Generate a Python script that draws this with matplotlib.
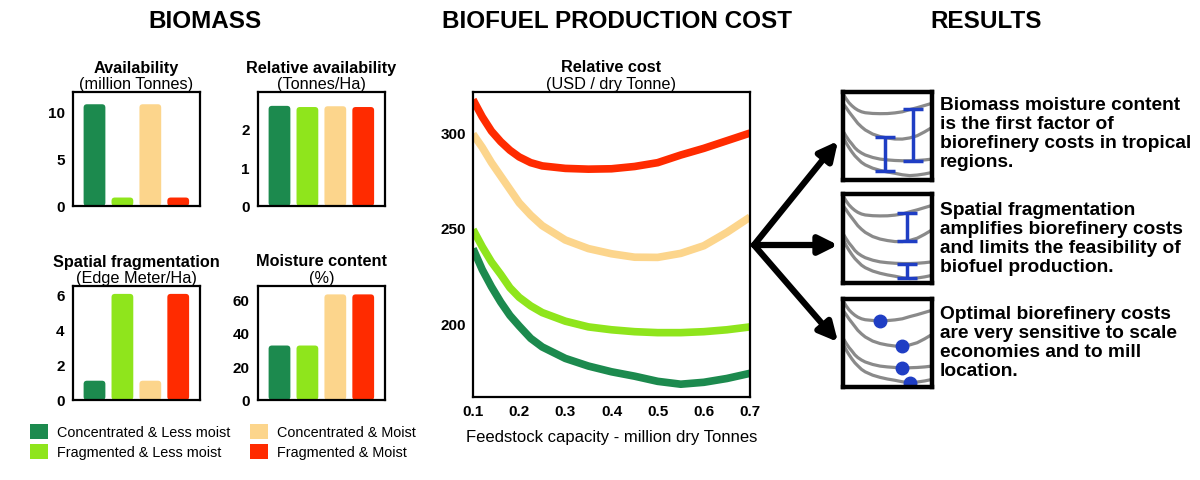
import matplotlib
matplotlib.use('Agg')
import matplotlib.pyplot as plt
import numpy as np
from matplotlib.patches import Patch, FancyArrowPatch, FancyBboxPatch

plt.rcParams['font.family'] = ['Liberation Sans', 'DejaVu Sans']

# scenarios
groups = ['Concentrated & Less moist', 'Fragmented & Less moist',
          'Concentrated & Moist', 'Fragmented & Moist']
colors = ['#1c8a4e', '#8fe51c', '#fcd58c', '#ff2b00']

# biomass bars
availability = [10.8, 0.9, 10.8, 0.9]
rel_availability = [2.6, 2.57, 2.59, 2.57]
fragmentation = [1.1, 6.05, 1.1, 6.05]
moisture = [32.5, 32.5, 63, 63]

# cost curves (USD / dry tonne)
capacity = [0.1, 0.12, 0.14, 0.16, 0.18, 0.2, 0.225, 0.25, 0.3, 0.35, 0.4, 0.45, 0.5, 0.55, 0.6, 0.65, 0.7]
cost_conc_less = [239, 228, 219, 211, 204, 198.5, 192, 187.5, 181.5, 177.5, 174.5, 172.2, 169.5, 168, 169, 171, 173.7]
cost_frag_less = [249, 240, 232, 225.5, 218.5, 213.5, 209, 205.5, 201, 198, 196.5, 195.5, 195, 195, 195.5, 196.5, 198]
cost_conc_moist = [299, 292, 284, 277, 270, 263, 256.5, 251, 243.5, 239, 236.3, 234.5, 234.4, 236.5, 240.5, 247.5, 255.5]
cost_frag_moist = [317, 308, 300.5, 295, 290.5, 287, 284, 282.3, 281, 280.6, 280.8, 282, 284, 288, 291.5, 295.5, 299.5]
curves = [cost_conc_less, cost_frag_less, cost_conc_moist, cost_frag_moist]

results = [
    "Biomass moisture content\nis the first factor of\nbiorefinery costs in tropical\nregions.",
    "Spatial fragmentation\namplifies biorefinery costs\nand limits the feasibility of\nbiofuel production.",
    "Optimal biorefinery costs\nare very sensitive to scale\neconomies and to mill\nlocation.",
]

W, H = 1200, 481
fig = plt.figure(figsize=(12, 4.81), dpi=100)


def fx(px):
    return px / W


def fy(py):
    return 1 - py / H


def box_axes(l, t, r, b):
    return fig.add_axes([fx(l), fy(b), fx(r - l), (b - t) / H])


def style(ax, lw=1.6, pad=6):
    for s in ax.spines.values():
        s.set_linewidth(lw)
        s.set_color('black')
    ax.tick_params(length=0, labelsize=11, pad=pad)
    for lab in ax.get_yticklabels() + ax.get_xticklabels():
        lab.set_fontweight('bold')


# section headers
fig.text(fx(205), fy(22), 'BIOMASS', ha='center', va='center', fontsize=17.5, fontweight='bold')
fig.text(fx(617), fy(22), 'BIOFUEL PRODUCTION COST', ha='center', va='center', fontsize=17.5, fontweight='bold')
fig.text(fx(986), fy(22), 'RESULTS', ha='center', va='center', fontsize=17.5, fontweight='bold')

# bar panels
panels = [
    (availability, 'Availability', '(million Tonnes)', (73, 93, 200, 207), 12.1, [0, 5, 10]),
    (rel_availability, 'Relative availability', '(Tonnes/Ha)', (258, 93, 385, 207), 2.96, [0, 1, 2]),
    (fragmentation, 'Spatial fragmentation', '(Edge Meter/Ha)', (73, 287, 200, 401), 6.5, [0, 2, 4, 6]),
    (moisture, 'Moisture content', '(%)', (258, 287, 385, 401), 68, [0, 20, 40, 60]),
]
x0, x1 = -0.77, 3.78
for vals, title, sub, (l, t, r, b), ymax, yt in panels:
    ax = box_axes(l, t, r, b)
    bars = ax.bar(range(4), vals, width=0.78, color=colors)
    # swap the plain rectangles for rounded ones
    aspect = (ymax / (b - t)) / ((x1 - x0) / (r - l))
    for rect in bars:
        rect.set_visible(False)
        ax.add_patch(FancyBboxPatch((rect.get_x(), rect.get_y()), rect.get_width(), rect.get_height(),
                                    boxstyle='round,pad=0,rounding_size=0.12', mutation_aspect=aspect,
                                    facecolor=rect.get_facecolor(), edgecolor='none'))
    ax.set_xlim(x0, x1)
    ax.set_ylim(0, ymax)
    ax.set_xticks([])
    ax.set_yticks(yt)
    style(ax)
    cx = fx((l + r) / 2)
    fig.text(cx, fy(t - 25), title, ha='center', va='center', fontsize=11.7, fontweight='bold')
    fig.text(cx, fy(t - 8), sub, ha='center', va='center', fontsize=11.7)

# legend
handles = [Patch(facecolor=c, edgecolor='none') for c in colors]
fig.legend(handles, groups, loc='upper left', bbox_to_anchor=(fx(30), fy(425)),
           ncol=2, frameon=False, fontsize=10.4, borderpad=0, borderaxespad=0,
           handlelength=1.25, handleheight=1.25, handletextpad=0.6,
           labelspacing=0.3, columnspacing=1.4)

# main cost chart
ax = box_axes(473, 93, 750, 398)
for c, y in zip(colors, curves):
    ax.plot(capacity, y, color=c, lw=5.5, solid_capstyle='butt', solid_joinstyle='round')
ax.set_xlim(0.1, 0.7)
ax.set_ylim(161.3, 321)
ax.set_yticks([200, 250, 300])
ax.set_xticks([0.1, 0.2, 0.3, 0.4, 0.5, 0.6, 0.7])
style(ax, pad=5)
ax.set_xlabel('Feedstock capacity - million dry Tonnes', fontsize=12, labelpad=8)
fig.text(fx(611), fy(68), 'Relative cost', ha='center', va='center', fontsize=11.7, fontweight='bold')
fig.text(fx(611), fy(84), '(USD / dry Tonne)', ha='center', va='center', fontsize=11.7)

# arrows
origin = (fx(754), fy(246))
for ty in [142, 246, 343]:
    fig.add_artist(FancyArrowPatch(origin, (fx(838), fy(ty)), transform=fig.transFigure,
                                   arrowstyle='-|>', mutation_scale=28, lw=4.5,
                                   color='black', shrinkA=0, shrinkB=0))

# result icons
blue = '#1f3ec4'
boxes = [(843, 93, 932, 181), (843, 195, 932, 284), (843, 300, 932, 388)]
text_y = [134, 239, 343]
for i, (l, t, r, b) in enumerate(boxes):
    ax = box_axes(l, t, r, b)
    for y in curves:
        ax.plot(capacity, y, color='#8a8a8a', lw=2.3)
    ax.set_xlim(0.1, 0.7)
    ax.set_ylim(160, 320)
    ax.set_xticks([])
    ax.set_yticks([])
    for s in ax.spines.values():
        s.set_linewidth(3.2)
    if i == 0:
        pairs = [(0.38, cost_conc_less, cost_conc_moist), (0.57, cost_frag_less, cost_frag_moist)]
    elif i == 1:
        pairs = [(0.53, cost_conc_moist, cost_frag_moist), (0.53, cost_conc_less, cost_frag_less)]
    else:
        pairs = []
    for x, lo, hi in pairs:
        ylo = np.interp(x, capacity, lo)
        yhi = np.interp(x, capacity, hi)
        ax.errorbar([x], [ylo], yerr=[[0], [yhi - ylo]], fmt='none', ecolor=blue,
                    elinewidth=2.5, capsize=7, capthick=2.5)
    if i == 2:
        for y in curves:
            k = int(np.argmin(y))
            ax.plot(capacity[k], y[k], 'o', color=blue, ms=9)
    fig.text(fx(940), fy(text_y[i]), results[i], ha='left', va='center',
             fontsize=13.8, fontweight='bold', linespacing=1.17)

fig.savefig('out.png', dpi=100)
